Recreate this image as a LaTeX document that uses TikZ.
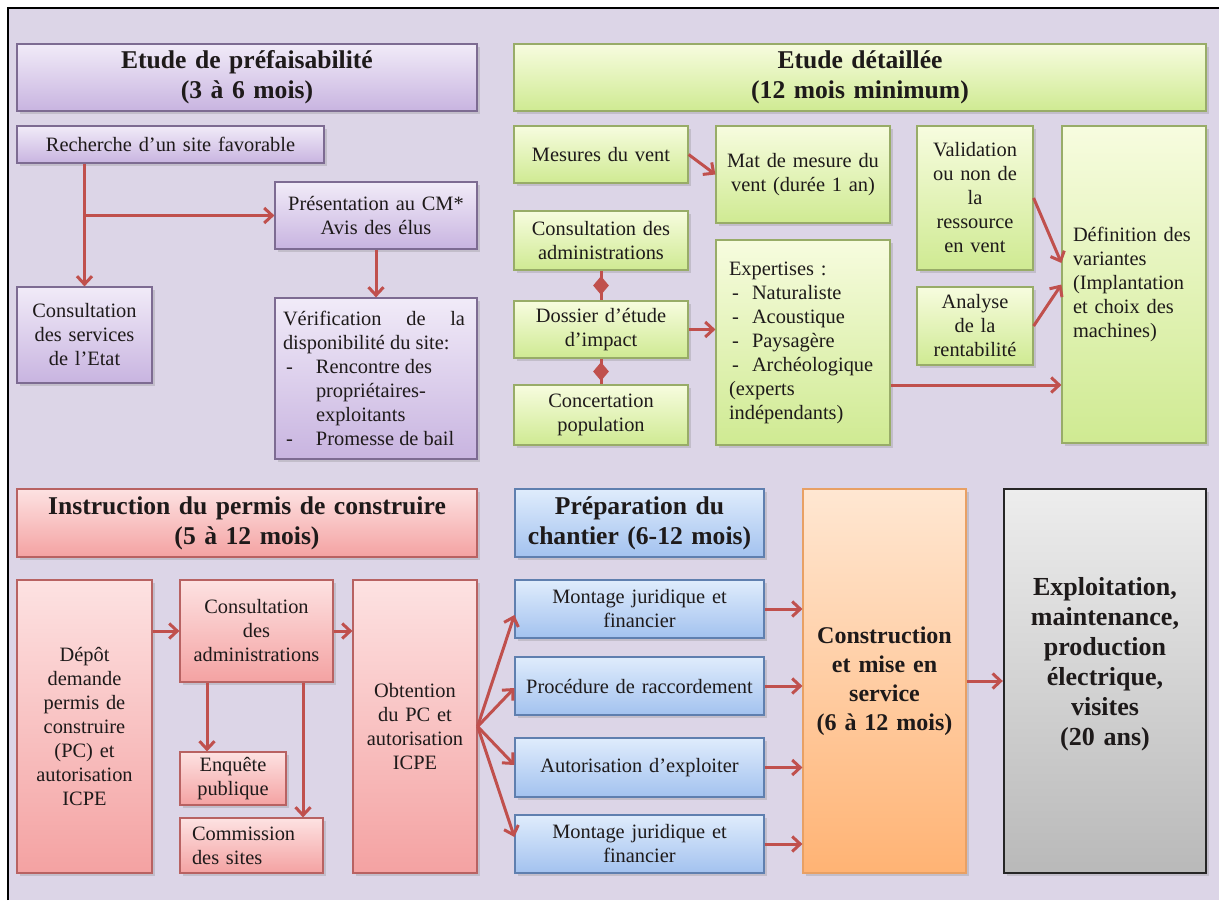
\documentclass[tikz,border=0pt]{standalone}
\usepackage{fontspec}
\setmainfont{Liberation Serif}
\usetikzlibrary{arrows.meta,shapes.geometric,shadows,calc}
\definecolor{bgc}{HTML}{DCD5E7}
\definecolor{txt}{HTML}{1E1A1A}
\definecolor{arrc}{HTML}{C0504D}
\definecolor{purpT}{HTML}{F1EBF8}
\definecolor{purpD}{HTML}{C8B4E0}
\definecolor{purpB}{HTML}{7D6B92}
\definecolor{grnT}{HTML}{F7FCDF}
\definecolor{grnD}{HTML}{CFEA92}
\definecolor{grnB}{HTML}{98AC68}
\definecolor{redT}{HTML}{FDE2E2}
\definecolor{redD}{HTML}{F4A2A2}
\definecolor{redB}{HTML}{B86262}
\definecolor{bluT}{HTML}{DFECFC}
\definecolor{bluD}{HTML}{A3C2EF}
\definecolor{bluB}{HTML}{5F7FAF}
\definecolor{oraT}{HTML}{FFE7D2}
\definecolor{oraD}{HTML}{FFB374}
\definecolor{oraB}{HTML}{E8A064}
\definecolor{gryT}{HTML}{EDEDED}
\definecolor{gryD}{HTML}{B9B9B9}
\newcommand\bx[7]{%
  \pgfmathsetmacro\bxcx{(#3+#5)/2}%
  \pgfmathsetmacro\bxcy{(#4+#6)/2}%
  \pgfmathsetmacro\bxw{(#5-#3)/2}%
  \pgfmathsetmacro\bxh{(#6-#4)/2}%
  \pgfmathsetmacro\bxtw{(#5-#3)/2-8}%
  \node[minimum width=\bxw pt, minimum height=\bxh pt, text width=\bxtw pt, #1] (#2) at (\bxcx,\bxcy) {#7};%
}
\begin{document}
\begin{tikzpicture}[x=0.5pt,y=-0.5pt,
  bxs/.style={draw, line width=0.6pt, inner xsep=4pt, inner ysep=2pt, align=center,
    font=\fontsize{10.2}{12}\selectfont, text=txt,
    drop shadow={shadow xshift=1.4pt,shadow yshift=-1.4pt,opacity=0.28}},
  pbox/.style={bxs, draw=purpB, top color=purpT, bottom color=purpD},
  gbox/.style={bxs, draw=grnB, top color=grnT, bottom color=grnD},
  rbox/.style={bxs, draw=redB, top color=redT, bottom color=redD},
  bbox/.style={bxs, draw=bluB, top color=bluT, bottom color=bluD},
  obox/.style={bxs, draw=oraB, top color=oraT, bottom color=oraD},
  gybox/.style={bxs, draw=black!85, line width=1.2pt, top color=gryT, bottom color=gryD},
  ttl/.style={font=\fontsize{12.8}{15}\selectfont\bfseries},
  arr/.style={draw=arrc, line width=1.5pt, -{Straight Barb[length=4pt,width=7.5pt]}},
  conn/.style={draw=arrc, line width=1.5pt},
  dmd/.style={diamond, fill=arrc, inner sep=0pt, minimum width=8.5pt, minimum height=10pt}
]
\useasboundingbox (0,0) rectangle (1219,900);
\fill[white] (0,0) rectangle (1219,900);
\fill[bgc] (8,8) rectangle (1219,900);
\draw[line width=1pt] (8,900) -- (8,8) -- (1219,8);

% ---- Etude de prefaisabilite
\bx{pbox,ttl}{t1}{17}{44}{477}{111}{Etude de préfaisabilité\\(3 à 6 mois)}
\bx{pbox}{rech}{17}{126}{324}{163}{Recherche d’un site favorable}
\bx{pbox}{csrv}{17}{287}{152}{383}{Consultation\\des services\\de l’Etat}
\bx{pbox}{pres}{275}{182}{477}{249}{Présentation au CM*\\Avis des élus}
\bx{pbox,align=justify}{verif}{275}{298}{477}{459}{\rightskip=2pt Vérification de la\linebreak disponibilité du site:\par
\hangindent=16.5pt\hangafter=1\noindent\makebox[16.5pt][l]{\hspace{1.5pt}-}Rencontre des\\propriétaires-\\exploitants\par
\noindent\makebox[16.5pt][l]{\hspace{1.5pt}-}Promesse de bail}

% ---- Etude detaillee
\bx{gbox,ttl}{t2}{514}{44}{1206}{111}{Etude détaillée\\(12 mois minimum)}
\bx{gbox}{mes}{514}{126}{688}{183}{Mesures du vent}
\bx{gbox}{mat}{716}{126}{890}{223}{Mat de mesure du\\vent (durée 1 an)}
\bx{gbox}{cadm}{514}{211}{688}{270}{Consultation des\\administrations}
\bx{gbox}{doss}{514}{301}{688}{358}{Dossier d’étude\\d’impact}
\bx{gbox}{conc}{514}{385}{688}{445}{Concertation\\population}
\bx{gbox,align=left,inner xsep=6.5pt,text width=74pt}{exp}{716}{240}{890}{445}{Expertises :\\\makebox[11.5pt][l]{\hspace{1.5pt}-}Naturaliste\\\makebox[11.5pt][l]{\hspace{1.5pt}-}Acoustique\\\makebox[11.5pt][l]{\hspace{1.5pt}-}Paysagère\\\makebox[11.5pt][l]{\hspace{1.5pt}-}Archéologique\\(experts\\indépendants)}
\bx{gbox}{val}{917}{126}{1033}{270}{Validation\\ou non de\\la\\ressource\\en vent}
\bx{gbox}{ana}{917}{287}{1033}{365}{Analyse\\de la\\rentabilité}
\bx{gbox,align=left,inner xsep=5.5pt,text width=61pt}{def}{1062}{126}{1206}{443}{Définition des\\variantes\\(Implantation\\et choix des\\machines)}

% ---- Instruction du permis
\bx{rbox,ttl}{t3}{17}{489}{477}{557}{Instruction du permis de construire\\(5 à 12 mois)}
\bx{rbox}{dep}{17}{580}{152}{873}{Dépôt\\demande\\permis de\\construire\\(PC) et\\autorisation\\ICPE}
\bx{rbox}{cad2}{180}{580}{333}{682}{Consultation\\des\\administrations}
\bx{rbox}{enq}{180}{752}{286}{805}{Enquête\\publique}
\bx{rbox,align=left,inner xsep=6pt,text width=59.5pt}{com}{180}{818}{323}{873}{Commission\\des sites}
\bx{rbox}{obt}{353}{580}{477}{873}{Obtention\\du PC et\\autorisation\\ICPE}

% ---- Preparation du chantier
\bx{bbox,ttl}{t4}{515}{489}{764}{557}{Préparation du\\chantier (6-12 mois)}
\bx{bbox}{m1}{515}{580}{764}{638}{Montage juridique et\\financier}
\bx{bbox}{proc}{515}{657}{764}{715}{Procédure de raccordement}
\bx{bbox}{aut}{515}{738}{764}{797}{Autorisation d’exploiter}
\bx{bbox}{m2}{515}{815}{764}{873}{Montage juridique et\\financier}

% ---- Construction / Exploitation
\bx{obox,font=\fontsize{12}{14.5}\selectfont\bfseries}{con}{803}{489}{966}{873}{Construction\\et mise en\\service\\(6 à 12 mois)}
\bx{gybox,font=\fontsize{13}{15}\selectfont\bfseries}{ex}{1004}{489}{1206}{873}{Exploitation,\\maintenance,\\production\\électrique,\\visites\\(20 ans)\\[5pt]\mbox{}}

% ---- connectors
\draw[arr] (rech.south -| csrv.north) -- (csrv.north);
\draw[arr] (csrv.north |- pres.west) -- (pres.west);
\draw[arr] (pres.south) -- (verif.north);

\draw[arr] (mes.east) -- (mat.west);
\draw[conn] (cadm.south) -- node[dmd]{} (doss.north);
\draw[conn] (doss.south) -- node[dmd]{} (conc.north);
\draw[arr] (doss.east) -- (doss.east -| exp.west);
\draw[arr] (val.east) -- ([yshift=10.75pt]def.west);
\draw[arr] (ana.east) -- (def.west);
\draw[arr] ([yshift=-21.25pt]exp.east) -- ([yshift=-21.25pt]exp.east -| def.west);

\draw[arr] (dep.east |- cad2.west) -- (cad2.west);
\draw[arr] (cad2.east) -- (cad2.east -| obt.west);
\draw[arr] ([xshift=-24.75pt]cad2.south) -- ([xshift=-24.75pt]cad2.south |- enq.north);
\draw[arr] ([xshift=23.25pt]cad2.south) -- ([xshift=23.25pt]cad2.south |- com.north);

\draw[arr] (obt.east) -- ([yshift=-3pt]m1.west);
\draw[arr] (obt.east) -- ([yshift=-1pt]proc.west);
\draw[arr] (obt.east) -- ([yshift=1.25pt]aut.west);
\draw[arr] (obt.east) -- ([yshift=3.5pt]m2.west);

\draw[arr] (m1.east) -- (m1.east -| con.west);
\draw[arr] (proc.east) -- (proc.east -| con.west);
\draw[arr] (aut.east) -- (aut.east -| con.west);
\draw[arr] (m2.east) -- (m2.east -| con.west);
\draw[arr] (con.east) -- (con.east -| ex.west);
\end{tikzpicture}
\end{document}
